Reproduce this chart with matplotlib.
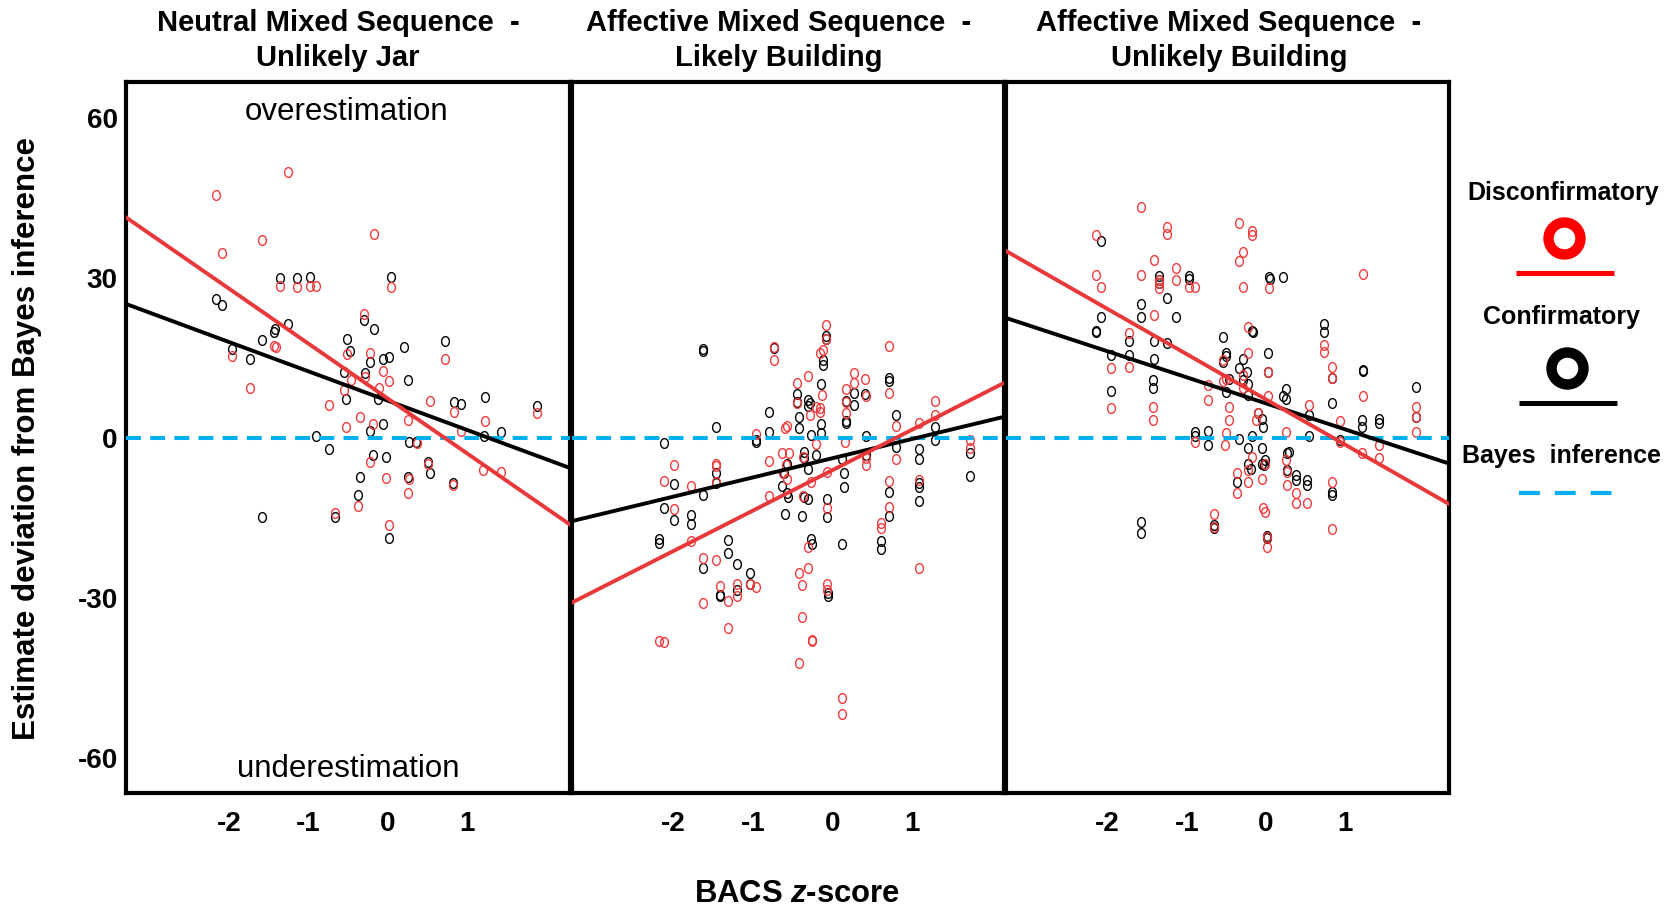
import numpy as np
import matplotlib
matplotlib.use("Agg")
import matplotlib.pyplot as plt
from matplotlib.path import Path

plt.rcParams['font.family'] = ['Liberation Sans', 'DejaVu Sans']
plt.rcParams['mathtext.fontset'] = 'custom'
plt.rcParams['mathtext.rm'] = 'Liberation Sans:bold'
plt.rcParams['mathtext.it'] = 'Liberation Sans:bold:italic'

# ---- data: BACS z-score vs. deviation of estimate from Bayes inference ----
titles = ["Neutral Mixed Sequence  -\nUnlikely Jar",
          "Affective Mixed Sequence  -\nLikely Building",
          "Affective Mixed Sequence  -\nUnlikely Building"]

p1_disc_x = [
    -2.16, -1.26, -1.59, -2.09, -0.18, -1.36, -1.14, -0.98, -0.90, 0.04,
    -0.30, -1.96, -1.43, -1.41, -1.74, -0.51, -0.23, -0.06, 0.02, -0.29,
    -0.47, -0.55, -0.11, -0.74, -0.35, -0.53, -0.19, 0.25, 0.53, 0.72,
    0.83, 0.92, 1.22, 1.88, 0.37, -0.23, -0.02, 0.27, 0.26, 0.51,
    0.82, 1.20, 1.42, -0.38, -0.67, 0.01]
p1_disc_y = [
    45.6, 49.8, 37.1, 34.6, 38.2, 28.5, 28.3, 28.5, 28.5, 28.3,
    23.3, 15.4, 17.3, 17.0, 9.3, 15.8, 15.9, 12.5, 10.6, 11.5,
    10.8, 9.0, 9.3, 6.1, 3.9, 2.1, 2.6, 3.4, 6.9, 14.9,
    4.8, 1.3, 3.1, 4.6, -1.0, -4.5, -7.5, -7.7, -10.4, -4.9,
    -8.8, -6.0, -6.4, -12.8, -14.0, -16.4]
p1_conf_x = [
    -2.16, -2.09, -1.36, -1.14, -0.98, 0.04, -1.26, -1.42, -1.43, -1.59,
    -1.96, -1.74, -0.51, -0.48, -0.30, -0.18, -0.23, -0.06, 0.02, 0.20,
    0.25, -0.29, -0.55, -0.53, -0.12, 0.72, 0.83, 0.92, 1.22, 1.88,
    1.42, 1.21, -0.06, -0.22, -0.90, -0.74, 0.27, 0.36, -0.19, -0.02,
    0.51, 0.53, 0.26, 0.82, -0.35, -0.38, -0.67, -1.59, 0.01]
p1_conf_y = [
    26.0, 25.0, 30.0, 30.0, 30.1, 30.1, 21.4, 20.4, 19.8, 18.3,
    16.6, 14.8, 18.5, 16.3, 22.2, 20.4, 14.3, 14.8, 15.2, 17.1,
    10.9, 12.1, 12.3, 7.4, 7.4, 18.2, 6.7, 6.4, 7.7, 6.0,
    1.2, 0.4, 2.6, 1.3, 0.3, -2.1, -0.7, -0.8, -3.1, -3.6,
    -4.5, -6.6, -7.3, -8.4, -7.4, -10.6, -14.9, -14.9, -18.8]

p2_disc_x = [
    -0.08, -0.08, -0.11, -0.15, -0.74, -0.74, 0.71, -0.31, -0.45, 0.28,
    0.28, 0.41, 0.17, 0.17, 0.42, -0.13, -0.15, -0.15, -0.20, -0.28,
    0.71, -0.45, -0.60, -0.57, -0.96, 0.17, 0.16, 0.81, 1.09, 1.30,
    1.30, 1.74, 1.74, -0.20, -0.63, -0.55, -0.37, -0.80, -1.47, -1.47,
    -2.00, -2.12, -1.78, -1.47, -0.58, -0.57, -0.62, -0.07, -0.27, 0.43,
    0.43, 0.81, 0.72, 1.09, -0.80, -0.37, -2.00, -0.07, 0.72, 0.61,
    0.61, -1.78, -1.63, -1.47, -0.31, -0.42, -0.31, -0.38, -0.06, -0.06,
    -1.41, -1.20, -1.20, -0.96, -1.04, -1.63, -1.31, -1.31, -0.38, -0.26,
    -0.26, -0.42, -2.19, -2.12, 0.12, 0.12, 1.09]
p2_disc_y = [
    21.2, 18.5, 16.5, 15.9, 17.1, 14.6, 17.3, 11.6, 10.4, 12.1,
    10.4, 11.1, 9.1, 6.8, 7.8, 8.1, 5.6, 4.9, 5.9, 4.3,
    8.4, 6.6, 1.9, 2.3, 0.8, 4.6, -0.7, 2.3, 2.8, 6.9,
    4.3, -0.3, -1.9, -1.2, -2.9, -2.9, -3.5, -4.4, -4.8, -5.3,
    -5.1, -8.1, -9.0, -8.2, -5.1, -7.6, -6.6, -6.4, -8.2, -5.1,
    -3.8, -3.9, -8.1, -7.9, -10.9, -10.9, -13.4, -13.1, -12.9, -16.0,
    -16.8, -19.3, -22.5, -22.9, -20.4, -25.4, -24.3, -27.6, -27.3, -28.5,
    -27.8, -27.4, -29.6, -28.0, -27.4, -31.0, -30.6, -35.6, -33.6, -37.8,
    -38.0, -42.1, -38.1, -38.3, -48.8, -51.8, -24.4]
p2_conf_x = [
    -1.63, -1.63, -0.74, -0.08, -0.08, -0.11, -0.11, -0.14, -0.45, -0.45,
    -0.31, -0.28, -0.31, 0.28, 0.28, 0.41, 0.17, 0.17, 0.17, 0.71,
    0.71, -0.42, -0.42, -0.14, -0.14, -0.27, -0.80, -0.80, -0.96, -0.96,
    -1.47, -2.12, 0.43, 0.43, 0.81, 0.81, 1.30, 1.30, 1.09, 1.09,
    1.09, 1.09, 1.09, 1.74, 1.74, -0.20, -0.36, -0.36, -0.31, 0.12,
    0.15, 0.15, -0.61, -0.57, -0.63, -0.56, -0.57, -0.36, -0.31, -0.07,
    -0.07, 0.72, 0.72, 0.61, 0.61, 0.12, -0.27, -0.26, -0.60, -0.38,
    -2.00, -2.00, -1.47, -1.47, -1.63, -2.12, -1.78, -1.78, -2.19, -2.19,
    -1.31, -1.31, -1.20, -1.04, -1.04, -1.63, -1.41, -1.41, -1.20, -0.05,
    -0.05]
p2_conf_y = [
    16.6, 16.4, 16.8, 19.2, 18.5, 14.6, 13.7, 10.1, 8.2, 6.8,
    7.1, 6.6, 6.0, 8.4, 6.2, 8.3, 7.0, 3.1, 2.8, 11.2,
    10.6, 4.0, 1.9, 2.6, 0.9, 0.5, 4.9, 1.2, -0.4, -0.7,
    2.1, -0.9, 0.3, -3.2, 4.3, -1.6, 2.1, -0.3, -2.1, -3.9,
    -8.4, -9.1, -11.9, -2.8, -7.1, -3.2, -2.7, -3.8, -5.8, -3.9,
    -6.5, -9.1, -6.6, -4.9, -9.0, -11.0, -10.4, -11.0, -11.4, -11.4,
    -14.9, -10.2, -14.6, -19.4, -20.9, -19.9, -19.0, -19.8, -14.3, -14.6,
    -8.6, -15.4, -6.6, -8.5, -10.6, -13.1, -14.5, -16.2, -19.0, -19.6,
    -19.1, -21.6, -23.6, -25.4, -27.4, -24.4, -29.4, -29.6, -28.5, -29.1,
    -29.6]

p3_disc_x = [
    -1.58, -2.15, -1.25, -1.25, -0.34, -0.17, -0.17, -0.29, -0.34, -1.41,
    -2.15, -1.58, -2.08, -1.35, -1.35, -1.35, -1.13, -1.13, -0.97, -0.89,
    -0.29, 0.04, 1.22, -1.41, -1.73, -1.73, -1.95, -1.95, -1.42, -1.42,
    -0.22, -0.22, -0.54, -0.54, -0.50, -0.29, -0.29, 0.03, 0.03, -0.73,
    -0.73, -0.46, -0.46, -0.50, -0.52, -0.89, 0.73, 0.73, 0.84, 0.84,
    1.22, 0.54, 0.93, 0.93, 1.89, 1.89, 1.89, 0.25, 0.25, 0.27,
    0.27, 0.38, 0.38, 0.52, 1.21, 1.43, 1.43, 0.83, 0.83, -0.18,
    -0.01, -0.22, -0.22, -0.36, -0.36, -0.05, -0.04, -0.01, -0.66, -0.66,
    0.02, 0.02, -0.12, -0.10]
p3_disc_y = [
    43.4, 38.1, 39.6, 38.3, 40.3, 38.9, 38.1, 34.8, 33.1, 33.3,
    30.6, 30.6, 28.3, 29.6, 29.0, 28.1, 31.8, 29.6, 28.4, 28.3,
    28.3, 28.1, 30.8, 23.1, 19.6, 13.4, 13.1, 5.6, 5.9, 3.4,
    20.9, 15.9, 14.6, 10.6, 11.0, 11.8, 9.3, 12.3, 7.9, 9.9,
    7.1, 5.9, 3.4, 0.9, -1.4, -0.7, 17.4, 16.2, 13.4, 11.2,
    7.9, 6.2, 3.1, -0.8, 5.9, 4.0, 1.1, 1.2, -4.1, -6.3,
    -8.8, -10.4, -12.1, -12.1, -2.9, -1.4, -3.8, -8.2, -17.1, -3.5,
    -4.8, -6.0, -8.2, -6.5, -10.4, -7.6, -13.1, -13.9, -14.3, -16.6,
    -20.4, -18.5, 3.4, 4.6]
p3_conf_x = [
    -2.08, -1.35, -1.35, -1.35, -0.97, -0.97, 0.04, 0.05, 0.22, -1.25,
    -1.58, -1.58, -2.08, -1.13, -2.15, -2.15, -0.17, -0.16, -1.73, -1.73,
    -1.95, -1.95, -1.41, -1.41, -1.42, -1.42, -1.25, 0.73, 0.73, -0.54,
    -0.54, -0.51, -0.50, -0.34, -0.29, -0.29, -0.24, -0.22, -0.22, -0.46,
    -0.50, 0.03, 0.03, 0.25, 0.25, 0.22, 0.84, 0.84, 1.22, 1.22,
    1.21, 1.21, 1.43, 1.43, 1.89, 1.89, 0.54, 0.54, -0.10, -0.05,
    -0.04, -0.18, -0.34, -0.73, -0.73, -0.89, -0.89, -0.22, -0.22, -0.19,
    -0.05, -0.05, -0.01, -0.02, 0.29, 0.27, 0.27, 0.38, 0.38, 0.52,
    0.52, -0.36, 0.83, 0.83, 0.93, -0.66, -0.66, 0.02, 0.02, -1.58,
    -1.58]
p3_conf_y = [
    36.9, 30.4, 29.6, 29.0, 30.3, 29.8, 30.1, 29.9, 30.1, 26.2,
    25.1, 22.6, 22.7, 22.6, 20.1, 19.9, 20.1, 19.9, 18.1, 15.6,
    15.6, 8.8, 18.1, 14.8, 10.8, 9.4, 17.9, 21.3, 19.8, 18.9,
    14.3, 15.3, 15.9, 13.1, 14.8, 10.9, 12.3, 10.1, 8.1, 11.0,
    8.7, 16.0, 12.3, 9.2, 7.3, 7.9, 11.2, 6.5, 12.8, 12.6,
    3.4, 2.1, 3.5, 2.9, 9.6, 3.9, 4.3, 0.4, 4.6, 3.5,
    2.1, 0.4, -0.1, 1.3, -1.3, 1.1, 0.3, -1.9, -4.8, -5.9,
    -1.9, -4.8, -4.1, -5.1, -2.6, -2.9, -6.0, -6.9, -7.9, -7.9,
    -8.8, -8.2, -10.1, -10.7, -0.4, -16.4, -16.8, -18.3, -18.8, -15.7,
    -17.8]

# linear fits per panel (slope, intercept)
disc_slope = [-10.3, 7.56, -8.48]
disc_icpt = [7.4, -6.05, 7.24]
conf_slope = [-5.5, 3.59, -4.88]
conf_icpt = [7.0, -3.8, 6.5]

disc_x = [p1_disc_x, p2_disc_x, p3_disc_x]
disc_y = [p1_disc_y, p2_disc_y, p3_disc_y]
conf_x = [p1_conf_x, p2_conf_x, p3_conf_x]
conf_y = [p1_conf_y, p2_conf_y, p3_conf_y]

xticks = [-2, -1, 0, 1]
yticks = [-60, -30, 0, 30, 60]

RED_PT = '#F03A3C'
RED_LN = '#E8383A'
BLUE = '#00B0F0'

# slightly tall open oval used for the data points
t = np.linspace(0, 2 * np.pi, 60)
oval = Path(np.column_stack([0.8 * np.cos(t), np.sin(t)]), closed=True)

W, H = 1675, 907
fig = plt.figure(figsize=(W / 100, H / 100), dpi=100)

# panel boxes in pixels: left, right, x-limits
boxes = [(126, 570, (-3.298, 2.295)),
         (572, 1003.5, (-3.281, 2.160)),
         (1005.5, 1449, (-3.288, 2.312))]
top_px, bot_px = 82, 792.7

for i, (l, r, xl) in enumerate(boxes):
    ax = fig.add_axes([l / W, 1 - bot_px / H, (r - l) / W, (bot_px - top_px) / H])
    ax.set_xlim(*xl)
    ax.set_ylim(-66.5, 66.75)
    for sp in ax.spines.values():
        sp.set_linewidth(3)
    ax.plot(conf_x[i], conf_y[i], ls='none', marker=oval, ms=7.0, mfc='none',
            mec='black', mew=1.0, zorder=2)
    ax.plot(disc_x[i], disc_y[i], ls='none', marker=oval, ms=7.0, mfc='none',
            mec=RED_PT, mew=1.0, zorder=2)
    ax.axhline(0, color=BLUE, lw=2.9, ls=(0, (3.7, 2.3)), zorder=3)
    xs = np.array(xl)
    ax.plot(xs, conf_slope[i] * xs + conf_icpt[i], color='black', lw=2.8, zorder=4)
    ax.plot(xs, disc_slope[i] * xs + disc_icpt[i], color=RED_LN, lw=2.8, zorder=5)
    ax.set_xticks(xticks)
    ax.set_xticklabels([str(v) for v in xticks])
    ax.tick_params(axis='x', length=0, pad=13, labelsize=20)
    if i == 0:
        ax.set_yticks(yticks)
        ax.set_yticklabels([str(v) for v in yticks])
        ax.tick_params(axis='y', length=0, pad=6, labelsize=20)
    else:
        ax.set_yticks([])
    for lab in ax.get_xticklabels() + ax.get_yticklabels():
        lab.set_fontweight('bold')

# overlay in pixel coordinates for titles, labels and legend
lay = fig.add_axes([0, 0, 1, 1], zorder=10)
lay.set_xlim(0, W)
lay.set_ylim(H, 0)
lay.set_axis_off()

title_x = [338, 779, 1229]
for tx, ttl in zip(title_x, titles):
    lay.text(tx, 40.5, ttl, ha='center', va='center', fontsize=21,
             fontweight='bold', linespacing=1.36)

lay.text(347, 112, "overestimation", ha='center', va='center', fontsize=22.5)
lay.text(348, 769, "underestimation", ha='center', va='center', fontsize=22.5)

lay.text(27, 438, "Estimate deviation from Bayes inference", rotation=90,
         ha='center', va='center', fontsize=22.5, fontweight='bold')
lay.text(797, 894, "BACS $z$-score", ha='center', va='center', fontsize=22.3,
         fontweight='bold')

# legend
lay.text(1563, 193, "Disconfirmatory", ha='center', va='center', fontsize=18, fontweight='bold')
lay.plot([1564], [238], marker='o', ms=23, mew=7.5, mfc='white', mec='#FF0000')
lay.plot([1516, 1614], [273, 273], color='#FF0000', lw=3.6, solid_capstyle='butt')
lay.text(1562, 317, "Confirmatory", ha='center', va='center', fontsize=18, fontweight='bold')
lay.plot([1567], [368], marker='o', ms=23, mew=7.5, mfc='white', mec='black')
lay.plot([1519, 1617], [403, 403], color='black', lw=3.6, solid_capstyle='butt')
lay.text(1562, 456, "Bayes  inference", ha='center', va='center', fontsize=18, fontweight='bold')
lay.plot([1519, 1613], [493, 493], color=BLUE, lw=3.0, ls=(0, (5.0, 3.6)),
         dash_capstyle='butt')

fig.savefig("out.png", dpi=100)
